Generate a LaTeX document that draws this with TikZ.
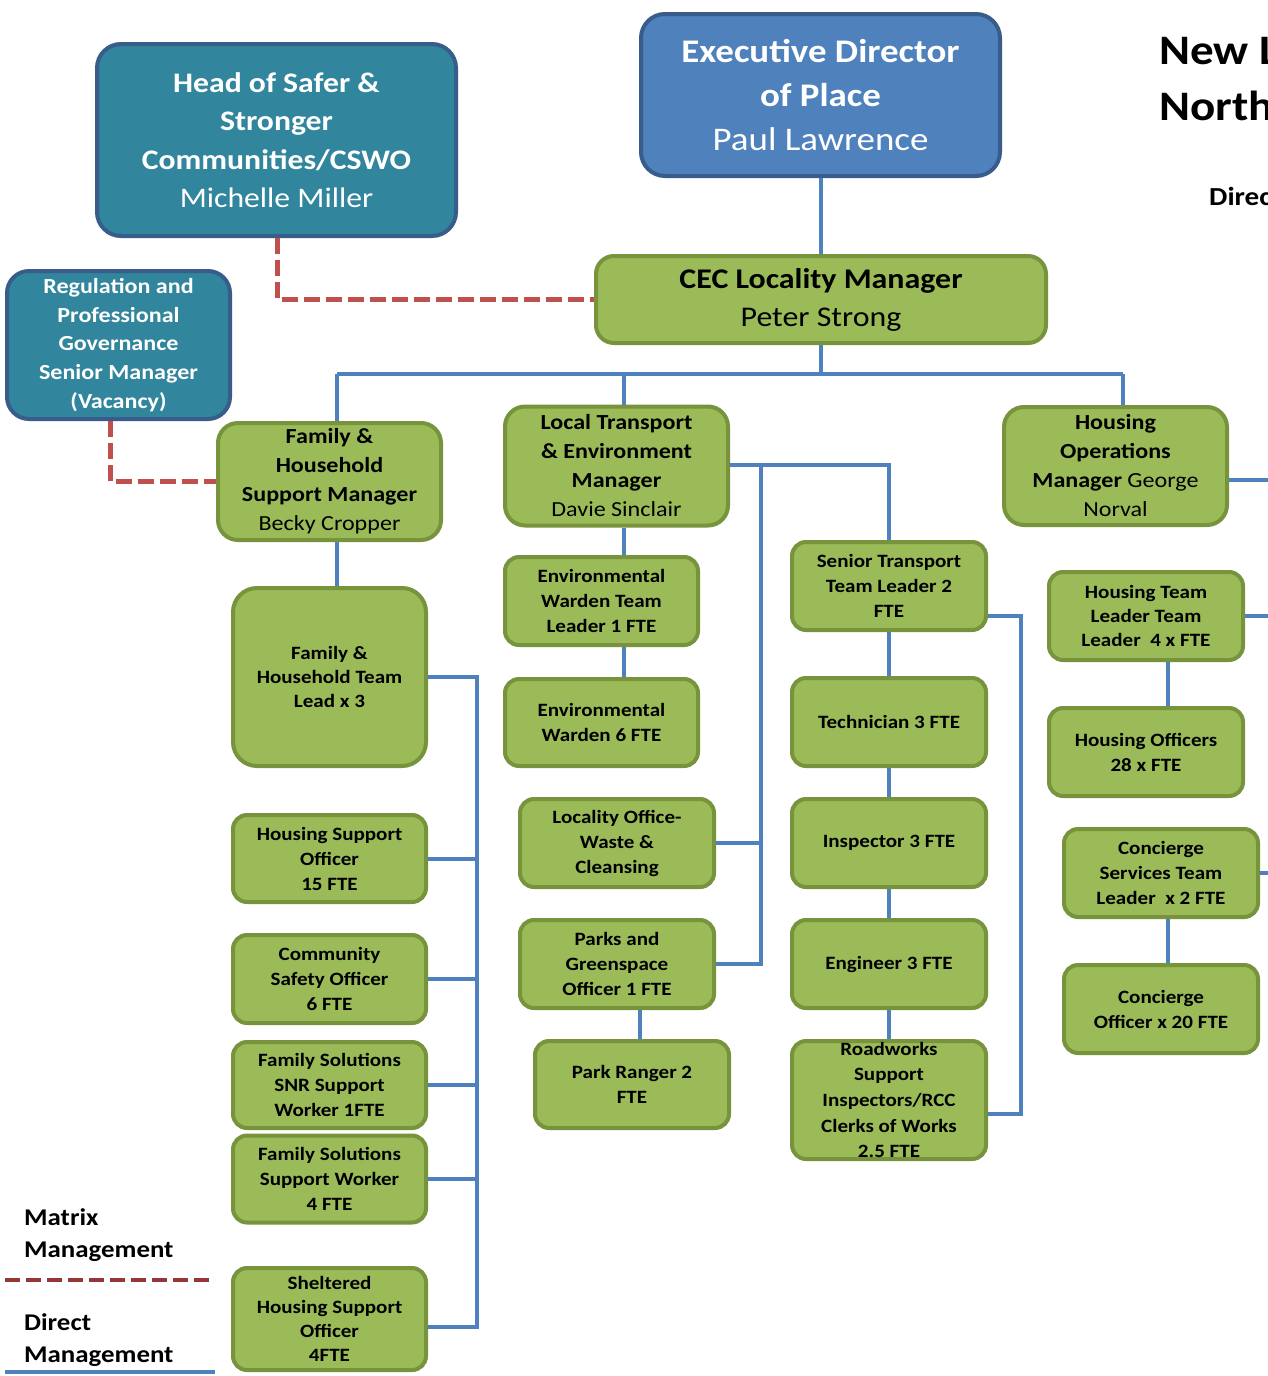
\documentclass[tikz,border=0pt]{standalone}
\usepackage{fontspec}
\setmainfont{Carlito}[FakeStretch=1.12]
\definecolor{gfill}{HTML}{9BBB59}
\definecolor{gline}{HTML}{77933C}
\definecolor{tfill}{HTML}{31859C}
\definecolor{bline}{HTML}{385D8A}
\definecolor{bfill}{HTML}{4F81BD}
\definecolor{conn}{HTML}{4F81BD}
\definecolor{mred}{HTML}{C0504D}
\definecolor{legred}{HTML}{953735}
\tikzset{
  gbox/.style={draw=gline, fill=gfill, line width=4pt, rounded corners=14pt, align=center, inner sep=0pt, text=black,
    font=\bfseries\fontsize{18.8}{25}\selectfont},
  bigg/.style={gbox, rounded corners=20pt, font=\bfseries\fontsize{21.5}{29}\selectfont},
  tbox/.style={draw=bline, fill=tfill, line width=4pt, rounded corners=24pt, align=center, inner sep=0pt, text=white},
  direct/.style={draw=conn, line width=4pt},
  matrixline/.style={draw=mred, line width=5pt, dash pattern=on 16pt off 6pt},
  legtext/.style={anchor=west, align=left, inner sep=0pt, font=\bfseries\fontsize{24}{32}\selectfont},
}
\begin{document}
\begin{tikzpicture}[x=1pt,y=-1pt]
\useasboundingbox (0,0) rectangle (1268,1376);
\clip (0,0) rectangle (1268,1376);
\fill[white] (0,0) rectangle (1268,1376);

% title (cut at the right edge)
\node[anchor=north west, align=left, inner sep=0pt, font=\bfseries\fontsize{42}{56}\selectfont] (title) at (1159,37) {New L\\North};
\node[anchor=west, inner sep=0pt, font=\bfseries\fontsize{26}{30}\selectfont] (dir) at (1209,196) {Direc};

% top boxes
\node[tbox, minimum width=359pt, minimum height=192pt, font=\bfseries\fontsize{28.3}{38.5}\selectfont] (safer) at (276.5,140)
  {Head of Safer \&\\Stronger\\Communities/CSWO\\{\mdseries Michelle Miller}};
\node[tbox, draw=bline, fill=bfill, minimum width=359pt, minimum height=162pt, font=\bfseries\fontsize{33}{44}\selectfont] (exec) at (820.5,95)
  {Executive Director\\of Place\\{\mdseries Paul Lawrence}};
\node[bigg, minimum width=450pt, minimum height=87pt, rounded corners=18pt, font=\bfseries\fontsize{28.5}{38}\selectfont] (cec) at (821,299.5)
  {CEC Locality Manager\\{\mdseries Peter Strong}};
\node[tbox, rounded corners=22pt, minimum width=223pt, minimum height=148pt, font=\bfseries\fontsize{21.5}{28.7}\selectfont] (reg) at (118.5,345)
  {Regulation and\\Professional\\Governance\\Senior Manager\\(Vacancy)};

% managers
\node[bigg, minimum width=223pt, minimum height=117pt] (fam) at (329.5,481.5)
  {Family \&\\Household\\Support Manager\\{\mdseries Becky Cropper}};
\node[bigg, minimum width=223pt, minimum height=119pt] (lt) at (616.5,466)
  {Local Transport\\\& Environment\\Manager\\{\mdseries Davie Sinclair}};
\node[bigg, minimum width=223pt, minimum height=118pt] (ho) at (1115.5,466)
  {Housing\\Operations\\Manager {\mdseries George}\\{\mdseries Norval}};

% family column
\node[gbox, rounded corners=24pt, minimum width=193pt, minimum height=178pt, font=\bfseries\fontsize{18.8}{24}\selectfont] (ftl) at (329.5,677)
  {Family \&\\Household Team\\Lead x 3};
\node[gbox, minimum width=193pt, minimum height=87pt] (hso) at (329.5,858.5) {Housing Support\\Officer\\15 FTE};
\node[gbox, minimum width=193pt, minimum height=88pt] (cso) at (329.5,979) {Community\\Safety Officer\\6 FTE};
\node[gbox, minimum width=193pt, minimum height=86pt] (snr) at (329.5,1085) {Family Solutions\\SNR Support\\Worker 1FTE};
\node[gbox, minimum width=193pt, minimum height=87pt] (fsw) at (329.5,1179) {Family Solutions\\Support Worker\\4 FTE};
\node[gbox, minimum width=193pt, minimum height=102pt, font=\bfseries\fontsize{18.8}{24}\selectfont] (shso) at (329.5,1319) {Sheltered\\Housing Support\\Officer\\4FTE};

% environment column
\node[gbox, minimum width=193pt, minimum height=88pt] (ewtl) at (601.5,601) {Environmental\\Warden Team\\Leader 1 FTE};
\node[gbox, minimum width=193pt, minimum height=87pt] (ew) at (601.5,722.5) {Environmental\\Warden 6 FTE};
\node[gbox, minimum width=194pt, minimum height=88pt] (lo) at (617,843) {Locality Office-\\Waste \&\\Cleansing};
\node[gbox, minimum width=194pt, minimum height=88pt] (parks) at (617,964) {Parks and\\Greenspace\\Officer 1 FTE};
\node[gbox, minimum width=194pt, minimum height=87pt] (pr) at (632,1084.5) {Park Ranger 2\\FTE};

% transport column
\node[gbox, minimum width=194pt, minimum height=88pt] (stl) at (889,586) {Senior Transport\\Team Leader 2\\FTE};
\node[gbox, minimum width=194pt, minimum height=88pt] (tech) at (889,722) {Technician 3 FTE};
\node[gbox, minimum width=194pt, minimum height=88pt] (insp) at (889,843) {Inspector 3 FTE};
\node[gbox, minimum width=194pt, minimum height=88pt] (eng) at (889,964) {Engineer 3 FTE};
\node[gbox, minimum width=194pt, minimum height=118pt, font=\bfseries\fontsize{18.8}{25.6}\selectfont] (road) at (889,1100)
  {Roadworks\\Support\\Inspectors/RCC\\Clerks of Works\\2.5 FTE};

% housing column
\node[gbox, minimum width=194pt, minimum height=88pt, font=\bfseries\fontsize{18.8}{24}\selectfont] (htl) at (1146,616) {Housing Team\\Leader Team\\Leader\ \ 4 x FTE};
\node[gbox, minimum width=194pt, minimum height=88pt] (hof) at (1146,752) {Housing Officers\\28 x FTE};
\node[gbox, minimum width=194pt, minimum height=88pt] (ctl) at (1161,873) {Concierge\\Services Team\\Leader\ \ x 2 FTE};
\node[gbox, minimum width=194pt, minimum height=88pt] (co) at (1161,1009) {Concierge\\Officer x 20 FTE};

% helper coordinates
\coordinate (busL) at (337,374);
\coordinate (busM) at (624,374);
\coordinate (busR) at (1123,374);
\coordinate (fbar) at (477,677);
\coordinate (shY) at (477,1327);
\coordinate (vbar) at (761,465);
\coordinate (xP) at (640,0);
\coordinate (rb1) at (1021,616);
\coordinate (rb2) at (1021,1114);
\coordinate (hoY) at (1268,480);
\coordinate (edge) at (1268,0);
\coordinate (xH) at (1168,0);
\coordinate (xS) at (277,0);
\coordinate (xR) at (110,0);

% direct management connectors
\draw[direct] (exec.south) -- (exec.south |- cec.north);
\draw[direct] (cec.south) -- (cec.south |- busL);
\draw[direct] (busL) -- (busR);
\draw[direct] (busL) -- (busL |- fam.north);
\draw[direct] (busM) -- (busM |- lt.north);
\draw[direct] (busR) -- (busR |- ho.north);
\draw[direct] (fam.south -| busL) -- (ftl.north -| busL);
\draw[direct] (ftl.east) -- (fbar) -- (shY) -- (shso.east |- shY);
\draw[direct] (hso.east) -- (hso.east -| fbar);
\draw[direct] (cso.east) -- (cso.east -| fbar);
\draw[direct] (snr.east) -- (snr.east -| fbar);
\draw[direct] (fsw.east) -- (fsw.east -| fbar);
\draw[direct] (lt.south -| busM) -- (ewtl.north -| busM);
\draw[direct] (ewtl.south -| busM) -- (ew.north -| busM);
\draw[direct] (lt.east |- vbar) -- (vbar -| stl.north) -- (stl.north);
\draw[direct] (vbar) -- (vbar |- parks.east) -- (parks.east);
\draw[direct] (lo.east) -- (lo.east -| vbar);
\draw[direct] (parks.south -| xP) -- (pr.north -| xP);
\draw[direct] (stl.south) -- (tech.north);
\draw[direct] (tech.south) -- (insp.north);
\draw[direct] (insp.south) -- (eng.north);
\draw[direct] (eng.south) -- (road.north);
\draw[direct] (stl.east |- rb1) -- (rb1) -- (rb2) -- (road.east |- rb2);
\draw[direct] (ho.east |- hoY) -- (hoY);
\draw[direct] (htl.east) -- (htl.east -| edge);
\draw[direct] (ctl.east) -- (ctl.east -| edge);
\draw[direct] (htl.south -| xH) -- (hof.north -| xH);
\draw[direct] (ctl.south -| xH) -- (co.north -| xH);

% matrix management connectors
\draw[matrixline] (safer.south -| xS) |- (cec.west);
\draw[matrixline] (reg.south -| xR) |- (fam.west);

% legend
\node[legtext] (legM) at (24,1235) {Matrix\\Management};
\coordinate (lm1) at (5,1280);
\coordinate (lm2) at (212,1280);
\draw[draw=legred, line width=4pt, dash pattern=on 15pt off 6pt] (lm1) -- (lm2);
\node[legtext] (legD) at (24,1340) {Direct\\Management};
\coordinate (ld1) at (5,1372);
\coordinate (ld2) at (215,1372);
\draw[direct] (ld1) -- (ld2);
\end{tikzpicture}
\end{document}
